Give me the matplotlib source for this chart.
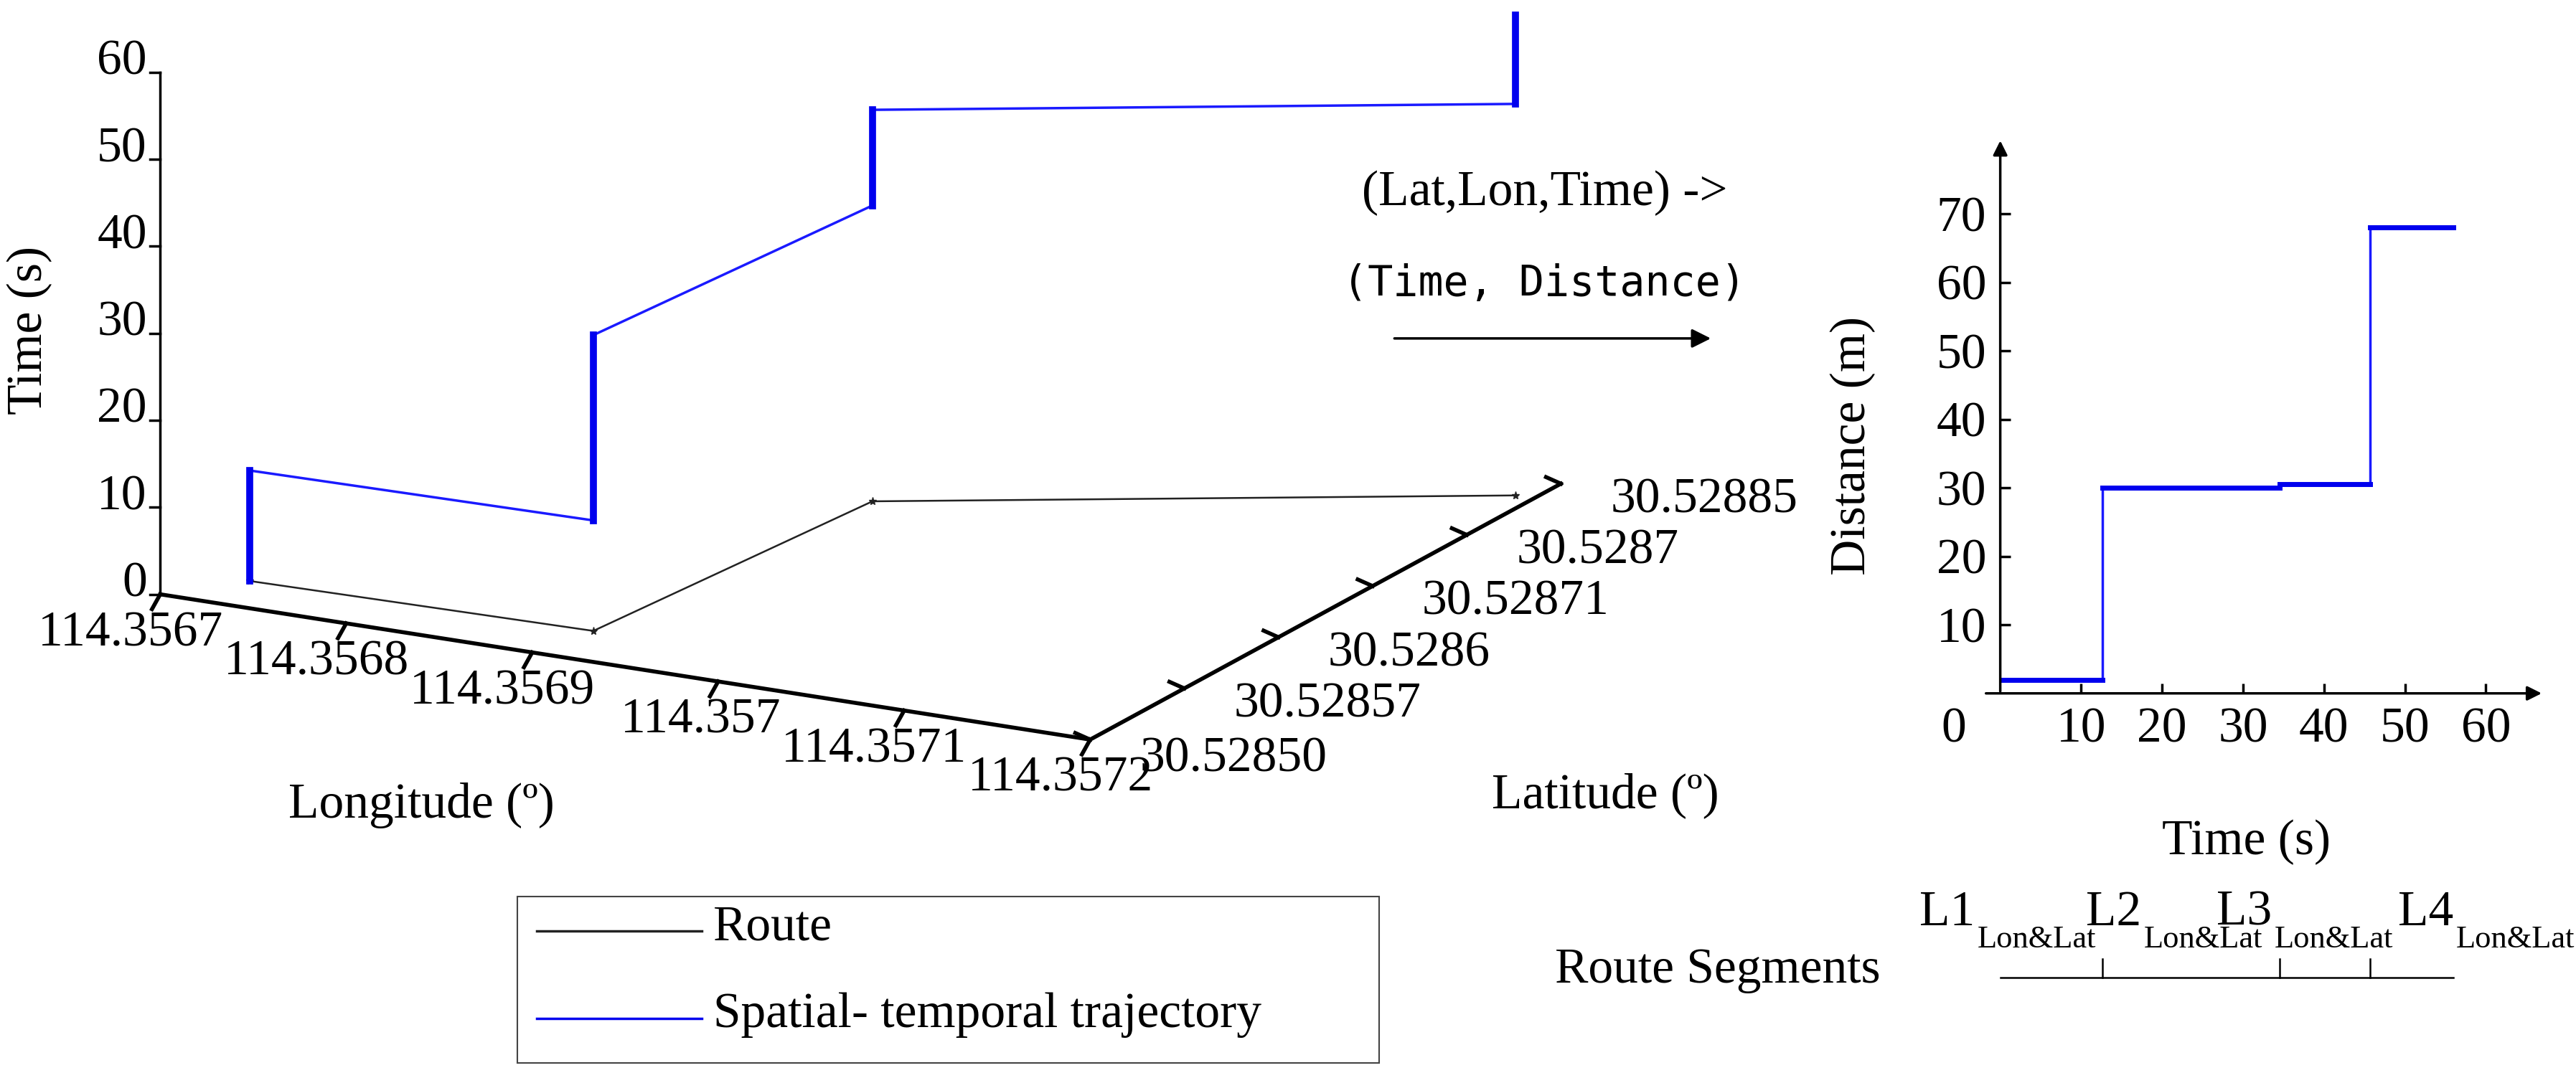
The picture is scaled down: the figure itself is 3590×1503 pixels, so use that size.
import matplotlib
matplotlib.use("Agg")
import matplotlib.pyplot as plt

# ---- data ----
time_ticks = [0, 10, 20, 30, 40, 50, 60]
lon_tick_labels = ["114.3567", "114.3568", "114.3569", "114.357", "114.3571", "114.3572"]
lat_tick_labels = ["30.52850", "30.52857", "30.5286", "30.52871", "30.5287", "30.52885"]
route_lon = [114.356727, 114.356909, 114.356926, 114.357190]
route_lat = [30.528529, 30.528533, 30.528717, 30.528830]
traj_idx = [0, 0, 1, 1, 2, 2, 3, 3]
traj_time = [0, 12.7, 12.7, 34, 34, 45, 45, 55.2]

dist_t = [0, 12.6, 12.6, 34.5, 34.5, 45.7, 45.7, 56]
dist_d = [2, 2, 30, 30, 30.5, 30.5, 68, 68]
dist_xticks = [10, 20, 30, 40, 50, 60]
dist_yticks = [10, 20, 30, 40, 50, 60, 70]
seg_bounds = [0, 12.6, 34.5, 45.7, 56]
seg_labels = ["L1", "L2", "L3", "L4"]

W, H = 1560, 653
FS = 50
SERIF = ["Liberation Serif", "DejaVu Serif"]
plt.rcParams["font.family"] = SERIF

LON0, LON1 = 114.3567, 114.3572
LAT0, LAT1 = 30.52850, 30.52885
ORIGIN = (97, 360)
LON_VEC = (563, 88)
LAT_VEC = (285, -155)
PX_PER_S = 5.27


def proj(lon, lat, t=0.0):
    a = (lon - LON0) / (LON1 - LON0)
    b = (lat - LAT0) / (LAT1 - LAT0)
    x = ORIGIN[0] + a * LON_VEC[0] + b * LAT_VEC[0]
    y = ORIGIN[1] + a * LON_VEC[1] + b * LAT_VEC[1] - t * PX_PER_S
    return x, y


fig = plt.figure(figsize=(35.91, 15.03), dpi=100)
ax = fig.add_axes([0, 0, 1, 1])
ax.set_xlim(0, W)
ax.set_ylim(H, 0)
ax.axis("off")

# time axis
x0, y0 = proj(LON0, LAT0, 0)
x1, y1 = proj(LON0, LAT0, time_ticks[-1])
ax.plot([x0, x0], [y0, y1], color="black", lw=2.5)
for t in time_ticks:
    xt, yt = proj(LON0, LAT0, t)
    ax.plot([xt - 6, xt], [yt, yt], color="black", lw=2.5)
    ax.text(xt - 8, yt - 6, str(t), ha="right", va="center", fontsize=FS)
ax.text(18, 200, "Time (s)", rotation=90, ha="center", va="center", fontsize=FS)

# longitude axis
n = len(lon_tick_labels) - 1
xe, ye = proj(LON1, LAT0)
ax.plot([x0, xe], [y0, ye], color="black", lw=4)
for i, lab in enumerate(lon_tick_labels):
    lon = LON0 + (LON1 - LON0) * i / n
    xt, yt = proj(lon, LAT0)
    ax.plot([xt, xt - 5], [yt, yt + 9], color="black", lw=4)
    ax.text(xt + 38, yt + 10, lab, ha="right", va="top", fontsize=FS)
ax.text(255, 488, "Longitude (º)", ha="center", va="center", fontsize=FS)

# latitude axis
n = len(lat_tick_labels) - 1
xl, yl = proj(LON1, LAT1)
ax.plot([xe, xl], [ye, yl], color="black", lw=4)
for i, lab in enumerate(lat_tick_labels):
    lat = LAT0 + (LAT1 - LAT0) * i / n
    xt, yt = proj(LON1, lat)
    ax.plot([xt, xt - 9], [yt, yt - 4], color="black", lw=4)
    ax.text(xt + 30, yt + (12 if i == 0 else 10), lab, ha="left", va="center", fontsize=FS)
ax.text(972, 482, "Latitude (º)", ha="center", va="center", fontsize=FS)

# route and trajectory
rx, ry = zip(*[proj(lo, la) for lo, la in zip(route_lon, route_lat)])
ax.plot(rx, ry, color="#222222", lw=1.8, marker="*", ms=8)
tx, ty = zip(*[proj(route_lon[i], route_lat[i], t) for i, t in zip(traj_idx, traj_time)])
ax.plot(tx, ty, color="#1a1aff", lw=2.5)
for k in range(0, len(tx), 2):
    ax.plot([tx[k], tx[k + 1]], [ty[k], ty[k + 1]], color="#0000ee", lw=7)

# middle arrow text
ax.text(935, 117, "(Lat,Lon,Time) ->", ha="center", va="center", fontsize=FS)
ax.text(935, 172, "(Time, Distance)", ha="center", va="center", fontsize=FS - 8,
        family=["DejaVu Sans Mono"])
ax.annotate("", xy=(1037, 205), xytext=(843, 205),
            arrowprops=dict(arrowstyle="-|>", color="black", lw=2.5, mutation_scale=40))

# legend box
ax.add_patch(plt.Rectangle((313, 543), 522, 101, fill=False, ec="#444444", lw=1.5))
ax.plot([325, 425], [564, 564], color="#222222", lw=2.5)
ax.text(432, 562, "Route", ha="left", va="center", fontsize=FS)
ax.plot([325, 425], [617, 617], color="#0000ee", lw=2.5)
ax.text(432, 615, "Spatial- temporal trajectory", ha="left", va="center", fontsize=FS)

# right chart
px_t = 4.9
px_d = 4.15
L, R, B, T = 1211, 1540, 420, 84
ax2 = fig.add_axes([L / W, 1 - B / H, (R - L) / W, (B - T) / H])
ax2.set_xlim(0, (R - L) / px_t)
ax2.set_ylim(0, (B - T) / px_d)
ax2.patch.set_alpha(0)
for s in ax2.spines.values():
    s.set_visible(False)
ax2.annotate("", xy=(1, 0), xytext=(-0.03, 0), xycoords="axes fraction",
             arrowprops=dict(arrowstyle="-|>", color="black", lw=2.5, mutation_scale=30))
ax2.annotate("", xy=(0, 1), xytext=(0, 0), xycoords="axes fraction",
             arrowprops=dict(arrowstyle="-|>", color="black", lw=2.5, mutation_scale=30))
ax2.plot(dist_t, dist_d, color="#1a1aff", lw=2.5)
for k in range(0, len(dist_t), 2):
    ax2.plot(dist_t[k:k + 2], dist_d[k:k + 2], color="#0000ee", lw=5)
ax2.set_xticks(dist_xticks)
ax2.set_yticks(dist_yticks)
ax2.tick_params(labelsize=FS, width=2.5, length=10, direction="in", pad=14)
ax.text(1183, 442, "0", ha="center", va="center", fontsize=FS)
ax.text(1122, 270, "Distance (m)", rotation=90, ha="center", va="center", fontsize=FS)
ax.text(1360, 510, "Time (s)", ha="center", va="center", fontsize=FS)

# route segments
sx = [L + v * px_t for v in seg_bounds]
label_shift = [-49, -10, -38, 17]
ax.plot([sx[0], sx[-1]], [592, 592], color="black", lw=1.8)
for v in sx[1:-1]:
    ax.plot([v, v], [592, 581], color="black", lw=1.8)
for v, lab, d in zip(sx[:-1], seg_labels, label_shift):
    ax.text(v + d, 553, lab, ha="left", va="center", fontsize=FS)
    ax.text(v + d + 35, 569, "Lon&Lat", ha="left", va="center", fontsize=FS - 18)
ax.text(1040, 588, "Route Segments", ha="center", va="center", fontsize=FS)

fig.savefig("out.png", facecolor="white")
